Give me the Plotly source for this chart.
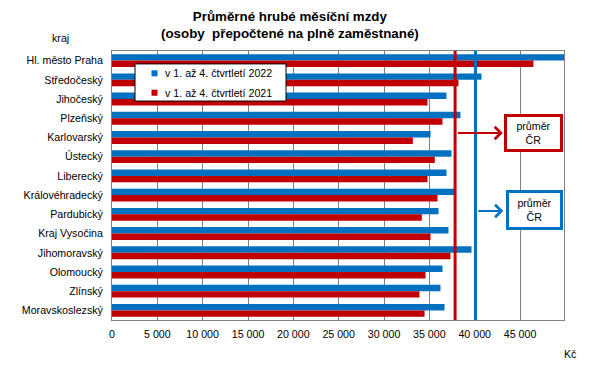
import plotly.graph_objects as go

regions = ["Hl. město Praha", "Středočeský", "Jihočeský", "Plzeňský", "Karlovarský",
           "Ústecký", "Liberecký", "Královéhradecký", "Pardubický", "Kraj Vysočina",
           "Jihomoravský", "Olomoucký", "Zlínský", "Moravskoslezský"]
wages_2022 = [50100, 40750, 36890, 38430, 35130, 37440, 36890, 37770, 36010, 37110,
              39650, 36450, 36230, 36670]
wages_2021 = [46480, 38210, 34800, 36450, 33180, 35600, 34800, 35900, 34170, 35130,
              37330, 34580, 33910, 34470]
avg_2022 = 40086
avg_2021 = 37839
series_names = ["v 1. až 4. čtvrtletí 2022", "v 1. až 4. čtvrtletí 2021"]
x_ticks = [0, 5000, 10000, 15000, 20000, 25000, 30000, 35000, 40000, 45000]
x_ticklabels = ["0", "5 000", "10 000", "15 000", "20 000", "25 000", "30 000",
                "35 000", "40 000", "45 000"]
title_text = "<b>Průměrné hrubé měsíční mzdy<br>(osoby  přepočtené na plně zaměstnané)</b>"

BLUE = "#0070C0"
RED = "#C00000"
FONT = "Liberation Sans, Arial, sans-serif"
FS = 10.67
XMAX = 49850

fig = go.Figure()
fig.add_trace(go.Bar(y=regions, x=wages_2022, orientation="h", name=series_names[0],
                     showlegend=False, marker=dict(color=BLUE, line=dict(width=0))))
fig.add_trace(go.Bar(y=regions, x=wages_2021, orientation="h", name=series_names[1],
                     showlegend=False, marker=dict(color=RED, line=dict(width=0))))

# average lines
fig.add_shape(type="line", xref="x", yref="paper", x0=avg_2021, x1=avg_2021, y0=0, y1=1,
              line=dict(color=RED, width=3))
fig.add_shape(type="line", xref="x", yref="paper", x0=avg_2022, x1=avg_2022, y0=0, y1=1,
              line=dict(color=BLUE, width=3))

# manual legend box
fig.add_shape(type="rect", xref="paper", yref="paper", x0=0.0509, x1=0.385, y0=0.814, y1=0.952,
              fillcolor="white", line=dict(color="#000", width=1), layer="above")
legend_colors = [BLUE, RED]
legend_y = [0.917, 0.845]
for c, yy in zip(legend_colors, legend_y):
    fig.add_shape(type="rect", xref="paper", yref="paper", x0=0.0874, x1=0.1007,
                  y0=yy - 0.0112, y1=yy + 0.0112, fillcolor=c, line=dict(width=0),
                  layer="above")

annotations = [
    dict(text=title_text, xref="paper", yref="paper", x=0.3938, y=1.0948, showarrow=False,
         xanchor="center", yanchor="middle",
         font=dict(size=13.33, color="#000", family=FONT)),
    dict(text="kraj", xref="paper", yref="paper", x=-0.1150, y=1.049, showarrow=False,
         xanchor="center", yanchor="middle", font=dict(size=FS, color="#000", family=FONT)),
    dict(text="Kč", xref="paper", yref="paper", x=1.0144, y=-0.1264, showarrow=False,
         xanchor="center", yanchor="middle", font=dict(size=FS, color="#000", family=FONT)),
    # arrows
    dict(text="", xref="x", yref="paper", x=43100, y=0.695, ax=avg_2021 + 150, ay=0,
         axref="x", ayref="pixel", showarrow=True, arrowhead=4, arrowsize=1.2,
         arrowwidth=2, arrowcolor=RED),
    dict(text="", xref="x", yref="paper", x=43150, y=0.405, ax=avg_2022 + 150, ay=0,
         axref="x", ayref="pixel", showarrow=True, arrowhead=4, arrowsize=1.2,
         arrowwidth=2, arrowcolor=BLUE),
    # boxes
    dict(text="průměr<br>ČR", xref="x", yref="paper", x=46490, y=0.695, showarrow=False,
         xanchor="center", yanchor="middle",
         width=51, height=30, bordercolor=RED, borderwidth=3, bgcolor="white",
         font=dict(size=FS, color="#000", family=FONT)),
    dict(text="průměr<br>ČR", xref="x", yref="paper", x=46600, y=0.409, showarrow=False,
         xanchor="center", yanchor="middle",
         width=49, height=32, bordercolor=BLUE, borderwidth=3, bgcolor="white",
         font=dict(size=FS, color="#000", family=FONT)),
]
for name, yy in zip(series_names, legend_y):
    annotations.append(dict(text=name, xref="paper", yref="paper", x=0.1128, y=yy,
                            xanchor="left", yanchor="middle", showarrow=False,
                            font=dict(size=FS, color="#000", family=FONT)))

fig.update_layout(
    width=590, height=366,
    margin=dict(l=112, r=26, t=51, b=46),
    paper_bgcolor="white", plot_bgcolor="white",
    barmode="group", bargap=0.33, bargroupgap=0,
    font=dict(family=FONT, size=FS, color="#000"),
    showlegend=False,
    annotations=annotations,
    xaxis=dict(range=[0, XMAX], tickvals=x_ticks, ticktext=x_ticklabels,
               showgrid=True, gridcolor="#808080", gridwidth=1,
               showline=True, linecolor="#808080", linewidth=1, mirror=True,
               ticks="", zeroline=False, ticklabelstandoff=4,
               tickfont=dict(size=FS, color="#000")),
    yaxis=dict(autorange="reversed", showgrid=False, showline=True, linecolor="#808080",
               linewidth=1, mirror=True, ticks="", ticksuffix="  ",
               tickfont=dict(size=FS, color="#000")),
)

fig.write_html("out.html", config={"displayModeBar": False},
               post_script="document.body.style.margin='0px';")
